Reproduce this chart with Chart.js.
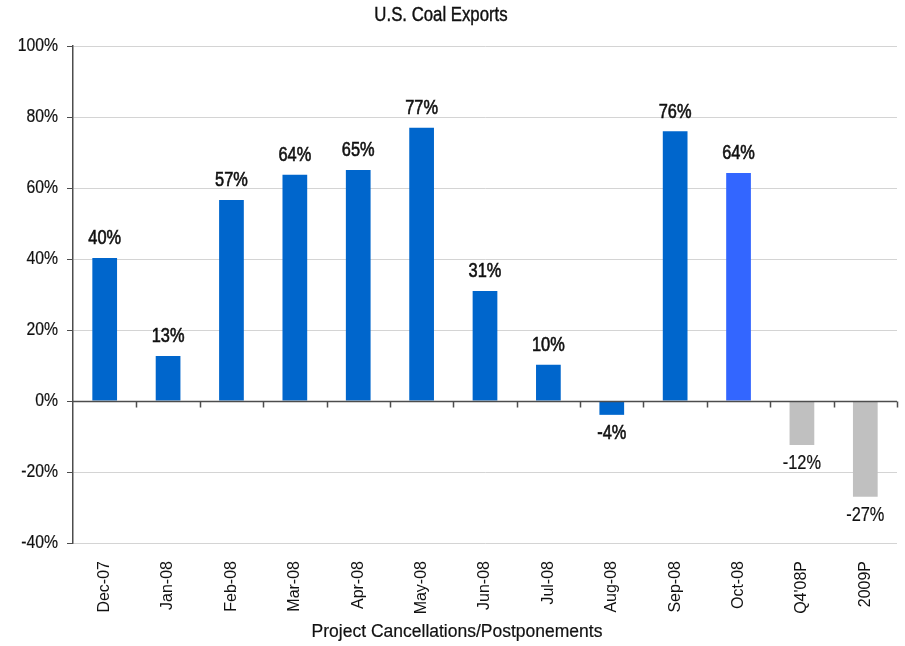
<!DOCTYPE html>
<html>
<head>
<meta charset="utf-8">
<script src="https://cdn.jsdelivr.net/npm/chart.js@4/dist/chart.umd.min.js"></script>
<style>
  html, body { margin: 0; padding: 0; background: #ffffff; }
  #wrap { width: 905px; height: 646px; position: relative; }
</style>
</head>
<body>
<div id="wrap"><canvas id="c"></canvas></div>
<script>
const categories = ["Dec-07","Jan-08","Feb-08","Mar-08","Apr-08","May-08","Jun-08","Jul-08","Aug-08","Sep-08","Oct-08","Q4'08P","2009P"];
const values = [40.3, 12.7, 56.6, 63.7, 65.1, 77.0, 31.0, 10.2, -3.9, 76.0, 64.2, -12.4, -27.0];
const barColors = ["#0066CC","#0066CC","#0066CC","#0066CC","#0066CC","#0066CC","#0066CC","#0066CC","#0066CC","#0066CC","#3366FF","#C0C0C0","#C0C0C0"];
const yTicks = [-40, -20, 0, 20, 40, 60, 80, 100];
const chartTitle = 'U.S. Coal Exports';
const xTitle = 'Project Cancellations/Postponements';

const SANS = '"Liberation Sans", Arial, sans-serif';
const AXIS = '#4d4d4d';
const TEXT = '#111111';

// draw horizontally condensed text (emulates a narrow face)
function narrowText(ctx, text, x, y, size, sx, align, weight) {
  ctx.save();
  ctx.translate(x, y);
  ctx.scale(sx, 1);
  ctx.font = size + 'px ' + SANS;
  ctx.fillStyle = TEXT;
  ctx.textAlign = align || 'center';
  ctx.textBaseline = 'middle';
  ctx.fillText(text, 0, 0);
  if (weight) {
    ctx.strokeStyle = TEXT;
    ctx.lineWidth = weight;
    ctx.strokeText(text, 0, 0);
  }
  ctx.restore();
}

const textPlugin = {
  id: 'narrowTexts',
  afterDraw(chart) {
    const ctx = chart.ctx;
    const ys = chart.scales.y;
    const area = chart.chartArea;
    narrowText(ctx, chartTitle, 441, 16, 19.5, 0.86, 'center', 0.4);
    narrowText(ctx, xTitle, 457, 632, 17.5, 1.0, 'center', 0.2);
    yTicks.forEach(v => {
      narrowText(ctx, v + '%', area.left - 15, ys.getPixelForValue(v), 17.5, 0.9, 'right', 0.2);
    });
    const meta = chart.getDatasetMeta(0);
    meta.data.forEach((bar, i) => {
      const v = values[i];
      const y = v >= 0 ? bar.y - 19 : bar.y + 19;
      const heavy = barColors[i] !== '#C0C0C0';
      narrowText(ctx, Math.round(v) + '%', bar.x, y, 19.5, 0.84, 'center', heavy ? 0.6 : 0.2);
    });
  }
};

const zeroTicksPlugin = {
  id: 'zeroTicks',
  afterDraw(chart) {
    const ctx = chart.ctx;
    const xs = chart.scales.x, ys = chart.scales.y;
    const y0 = Math.round(ys.getPixelForValue(0)) + 0.5;
    const step = xs.getPixelForValue(1) - xs.getPixelForValue(0);
    ctx.save();
    ctx.strokeStyle = AXIS;
    ctx.lineWidth = 1.5;
    ctx.beginPath();
    ctx.moveTo(chart.chartArea.left, y0);
    ctx.lineTo(chart.chartArea.right, y0);
    for (let i = 0; i < categories.length; i++) {
      const x = Math.round(xs.getPixelForValue(i) + step / 2) + 0.5;
      ctx.moveTo(x, y0);
      ctx.lineTo(x, y0 + 6);
    }
    ctx.stroke();
    ctx.restore();
  }
};

new Chart(document.getElementById('c'), {
  type: 'bar',
  data: {
    labels: categories,
    datasets: [{
      data: values,
      backgroundColor: barColors,
      borderWidth: 0,
      categoryPercentage: 1.0,
      barPercentage: 0.39
    }]
  },
  options: {
    responsive: true,
    maintainAspectRatio: false,
    animation: false,
    devicePixelRatio: 1,
    layout: { padding: { left: 0, right: 8, top: 46, bottom: 0 } },
    plugins: {
      legend: { display: false },
      tooltip: { enabled: false },
      title: { display: false }
    },
    scales: {
      x: {
        grid: { display: false, drawTicks: false },
        border: { display: false },
        ticks: {
          color: TEXT,
          font: { family: SANS, size: 16 },
          minRotation: 90,
          maxRotation: 90,
          autoSkip: false,
          padding: 18
        },
        title: { display: false },
        afterFit(scale) { scale.height = 103; }
      },
      y: {
        min: -40,
        max: 100,
        afterBuildTicks(scale) { scale.ticks = yTicks.map(v => ({ value: v })); },
        grid: {
          color: (c) => c.tick && c.tick.value === 0 ? AXIS : '#d4d4d4',
          tickColor: AXIS,
          tickLength: 6,
          lineWidth: 1
        },
        border: { display: true, color: AXIS, width: 1.5 },
        ticks: { display: false },
        afterFit(scale) { scale.width = 73; }
      }
    }
  },
  plugins: [textPlugin, zeroTicksPlugin]
});
</script>
</body>
</html>
